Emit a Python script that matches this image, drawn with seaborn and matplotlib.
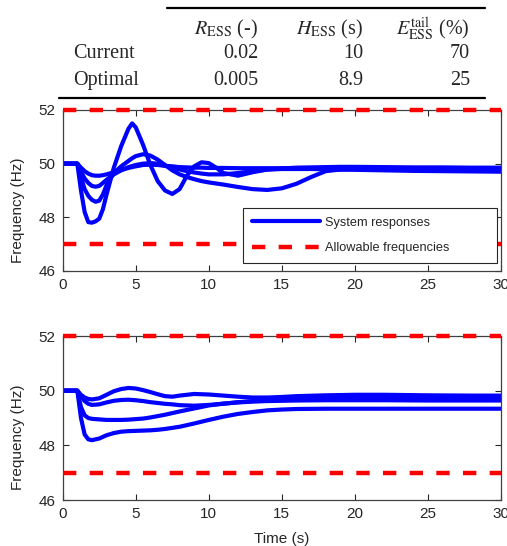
import numpy as np
import pandas as pd
import matplotlib
matplotlib.use("Agg")
import matplotlib.pyplot as plt
from matplotlib.lines import Line2D
import seaborn as sns

# parameter table
table_cols = [r"$R_{\mathrm{ESS}}$ (-)", r"$H_{\mathrm{ESS}}$ (s)", r"$E_{\mathrm{ESS}}^{\mathrm{tail}}$ (%)"]
table_rows = ["Current", "Optimal"]
table_vals = [["0.02", "10", "70"], ["0.005", "8.9", "25"]]

# allowable frequency band (Hz)
f_limits = [52, 47]

# frequency responses, current settings
t_cur = [0, 1, 1.25, 1.5, 1.75, 2, 2.25, 2.5, 2.75, 3, 3.5, 4, 4.5, 4.75, 5, 5.5, 6, 6.5, 7, 7.5,
         8, 8.5, 9, 9.5, 10, 10.5, 11, 12, 13, 14, 15, 16, 17, 18, 19, 20, 22, 24, 26, 28, 30]
cur_a = [50, 50, 49.0, 48.2, 47.82, 47.8, 47.85, 47.95, 48.3, 48.85, 49.85, 50.65, 51.3, 51.5, 51.35, 50.7,
         49.95, 49.35, 49.0, 48.87, 49.05, 49.55, 49.9, 50.05, 50.02, 49.85, 49.65, 49.55, 49.68, 49.78,
         49.82, 49.85, 49.86, 49.87, 49.88, 49.88, 49.87, 49.86, 49.86, 49.85, 49.85]
cur_b = [50, 50, 49.5, 49.05, 48.8, 48.65, 48.58, 48.62, 48.85, 49.2, 49.65, 49.9, 50.1, 50.2, 50.28, 50.35,
         50.3, 50.15, 49.95, 49.75, 49.6, 49.5, 49.42, 49.35, 49.3, 49.26, 49.22, 49.13, 49.05, 49.02,
         49.08, 49.25, 49.5, 49.72, 49.78, 49.8, 49.79, 49.78, 49.77, 49.76, 49.76]
cur_c = [50, 50, 49.7, 49.45, 49.28, 49.17, 49.14, 49.17, 49.28, 49.4, 49.6, 49.75, 49.87, 49.91, 49.95, 50.0,
         50.02, 50.0, 49.92, 49.85, 49.78, 49.72, 49.67, 49.63, 49.6, 49.6, 49.6, 49.65, 49.72, 49.78,
         49.8, 49.8, 49.8, 49.79, 49.78, 49.77, 49.75, 49.73, 49.72, 49.71, 49.7]
cur_d = [50, 50, 49.85, 49.72, 49.63, 49.57, 49.55, 49.55, 49.57, 49.6, 49.68, 49.76, 49.84, 49.87, 49.9, 49.95,
         49.96, 49.95, 49.92, 49.9, 49.87, 49.86, 49.85, 49.85, 49.84, 49.84, 49.84, 49.83, 49.83, 49.83,
         49.83, 49.82, 49.82, 49.82, 49.82, 49.82, 49.81, 49.8, 49.8, 49.8, 49.8]

# frequency responses, optimal settings
t_opt = [0, 1, 1.25, 1.5, 1.75, 2, 2.5, 3, 3.5, 4, 4.5, 5, 5.5, 6, 6.5, 7, 7.5, 8, 9, 10,
         11, 12, 13, 14, 15, 16, 18, 20, 22, 25, 28, 30]
opt_a = [50, 50, 49.85, 49.75, 49.7, 49.68, 49.72, 49.85, 49.98, 50.06, 50.1, 50.08, 50.02, 49.95, 49.87, 49.8,
         49.78, 49.82, 49.88, 49.86, 49.82, 49.78, 49.75, 49.75, 49.77, 49.8, 49.83, 49.85, 49.85, 49.83,
         49.82, 49.82]
opt_b = [50, 50, 49.8, 49.62, 49.52, 49.48, 49.5, 49.57, 49.63, 49.66, 49.67, 49.65, 49.62, 49.58, 49.55, 49.52,
         49.5, 49.47, 49.45, 49.48, 49.52, 49.58, 49.62, 49.65, 49.68, 49.7, 49.72, 49.73, 49.73, 49.72,
         49.72, 49.72]
opt_c = [50, 50, 49.4, 49.1, 49.0, 48.97, 48.95, 48.93, 48.93, 48.93, 48.94, 48.96, 48.98, 49.02, 49.07, 49.12,
         49.18, 49.24, 49.35, 49.46, 49.53, 49.57, 49.6, 49.62, 49.63, 49.64, 49.65, 49.65, 49.65, 49.64,
         49.64, 49.64]
opt_d = [50, 50, 49.0, 48.4, 48.22, 48.19, 48.25, 48.37, 48.45, 48.5, 48.52, 48.53, 48.54, 48.55, 48.57, 48.6,
         48.64, 48.68, 48.8, 48.93, 49.05, 49.15, 49.22, 49.28, 49.31, 49.33, 49.34, 49.34, 49.34, 49.34,
         49.34, 49.34]


def long_form(t, series):
    frames = [pd.DataFrame({"t": t, "f": s, "case": i}) for i, s in enumerate(series)]
    return pd.concat(frames, ignore_index=True)


df_cur = long_form(t_cur, [cur_a, cur_b, cur_c, cur_d])
df_opt = long_form(t_opt, [opt_a, opt_b, opt_c, opt_d])

sns.set_style("ticks")
plt.rcParams["font.family"] = ["Liberation Sans", "DejaVu Sans"]
plt.rcParams["mathtext.fontset"] = "stix"

fig = plt.figure(figsize=(5.07, 5.46), dpi=100)
ax1 = fig.add_axes([0.1237, 0.5037, 0.8645, 0.2949])
ax2 = fig.add_axes([0.1237, 0.0842, 0.8645, 0.3004])

blue = "#0000ff"
red = "#ff0000"
dash = (0, (3.0, 3.0))

for ax, df in [(ax1, df_cur), (ax2, df_opt)]:
    sns.lineplot(data=df, x="t", y="f", units="case", estimator=None, color=blue,
                 linewidth=3, legend=False, ax=ax)
    for lim in f_limits:
        ax.axhline(lim, color=red, linewidth=3.2, linestyle=dash, clip_on=False, zorder=3)
    ax.set_xlim(0, 30)
    ax.set_ylim(46, 52)
    ax.set_xticks(range(0, 31, 5))
    ax.set_yticks(range(46, 53, 2))
    ax.tick_params(direction="in", top=True, right=True, length=4, width=0.8,
                   labelsize=11, labelcolor="#262626", color="#262626", pad=5)
    for sp in ax.spines.values():
        sp.set_color("#404040")
        sp.set_linewidth(0.9)
    ax.set_ylabel("Frequency (Hz)", fontsize=11, color="#262626")
    ax.yaxis.set_label_coords(-0.086, 0.38)
    ax.set_xlabel("")

ax2.set_xlabel("Time (s)", fontsize=11, color="#262626", labelpad=8)

handles = [Line2D([], [], color=blue, linewidth=3),
           Line2D([], [], color=red, linewidth=3.2, linestyle=dash)]
leg = ax1.legend(handles, ["System responses", "Allowable frequencies"], loc="lower left",
                 bbox_to_anchor=(0.411, 0.05, 0.58, 0.34), mode="expand", borderaxespad=0,
                 fontsize=9.2, handlelength=5.3, handletextpad=0.4, labelspacing=1.05,
                 borderpad=0.7, fancybox=False, framealpha=1)
leg.get_frame().set_edgecolor("#262626")
leg.get_frame().set_linewidth(0.8)
leg.set_zorder(5)

# table above the plots
serif = ["Liberation Serif", "DejaVu Serif"]
col_x = [0.509, 0.716, 0.927]
row_y = [0.902, 0.852]
for x, lab in zip(col_x, table_cols):
    fig.text(x, 0.946, lab, ha="right", va="center", fontsize=14.5, family=serif)
for y, name, vals in zip(row_y, table_rows, table_vals):
    fig.text(0.144, y, name, ha="left", va="center", fontsize=14.5, family=serif)
    for x, v in zip(col_x, vals):
        fig.text(x, y, v, ha="right", va="center", fontsize=14.5, family=serif)
fig.add_artist(Line2D([0.329, 0.957], [0.985, 0.985], color="black", linewidth=1.6))
fig.add_artist(Line2D([0.116, 0.957], [0.8205, 0.8205], color="black", linewidth=1.6))

fig.savefig("out.png", dpi=100)
